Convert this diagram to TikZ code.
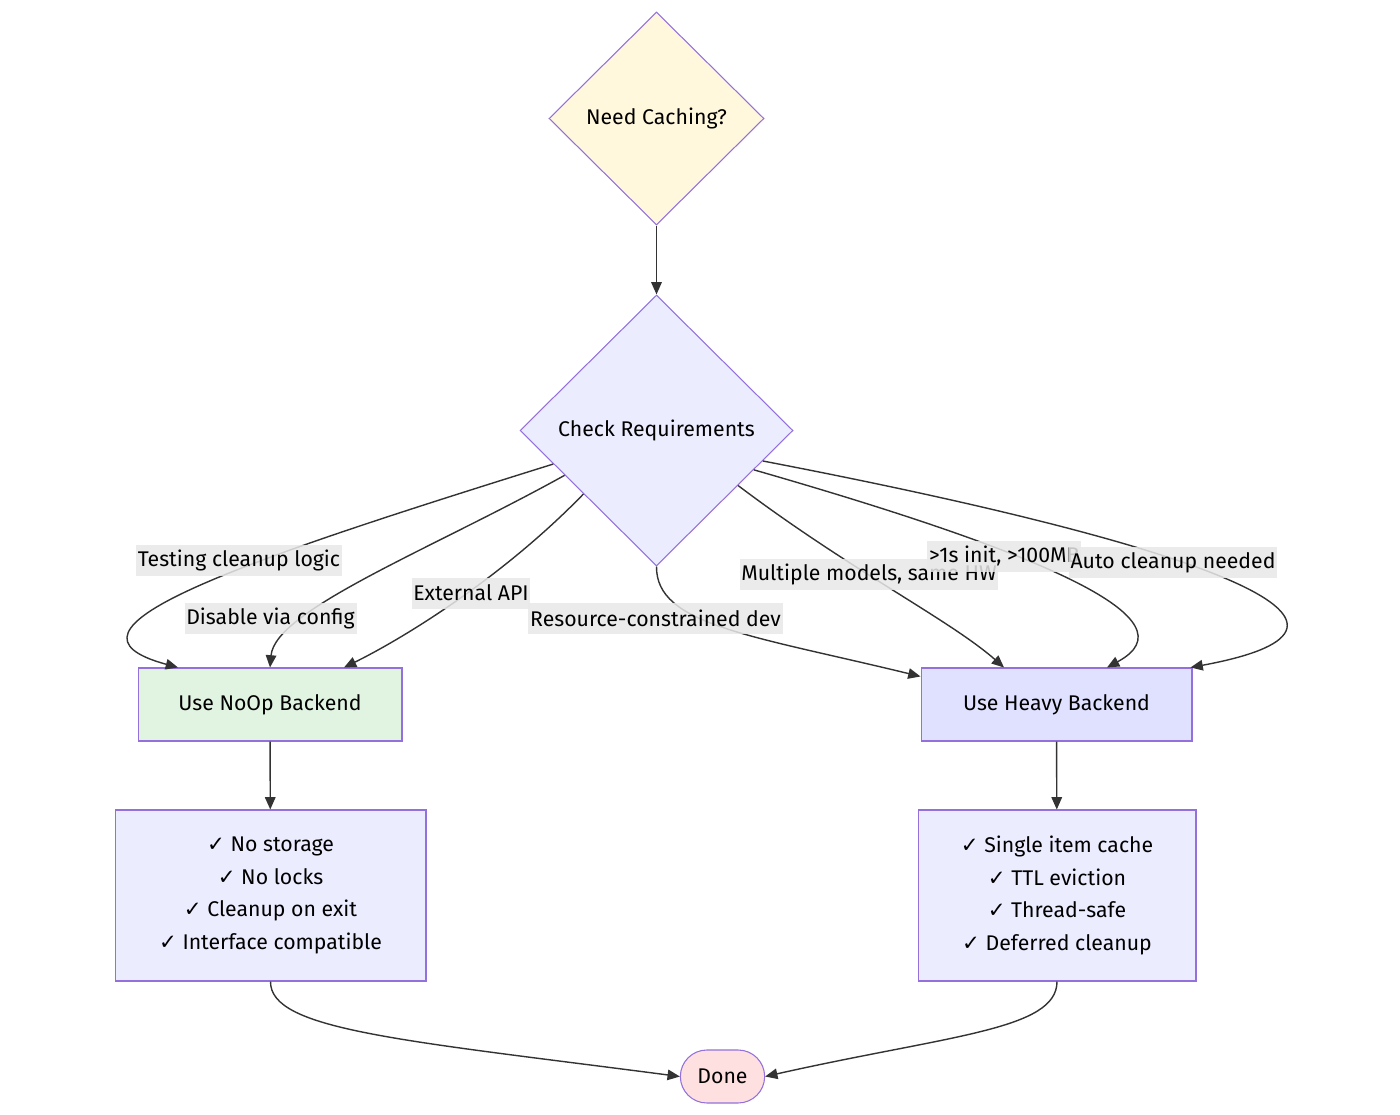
\documentclass[tikz,border=0pt]{standalone}
\usepackage{fontspec}
\setmainfont{Fira Sans}
\newfontfamily\checkfont{DejaVu Sans}
\usepackage{tikz}
\usetikzlibrary{shapes.geometric, shapes.misc, arrows.meta, calc}
\definecolor{linkcol}{HTML}{333333}
\definecolor{border}{HTML}{9370DB}
\definecolor{decide}{HTML}{FFF8DC}
\definecolor{lavender}{HTML}{ECECFF}
\definecolor{noopfill}{HTML}{E1F3E1}
\definecolor{heavyfill}{HTML}{E0E0FF}
\definecolor{donefill}{HTML}{FFE0E0}
\definecolor{tagfill}{HTML}{E8E8E8}
\newcommand{\ok}{{\checkfont\char"2713}\ }

\begin{document}
\begin{tikzpicture}[x=0.02cm, y=-0.02cm, font=\fontsize{12.1}{18.7}\selectfont,
  decision/.style={diamond, draw=border, line width=0.6pt, inner sep=0pt},
  box/.style={draw=border, line width=0.6pt, align=center},
  tag/.style={fill=tagfill, fill opacity=0.85, text opacity=1, inner xsep=1pt, inner ysep=0pt, minimum height=0.62cm},
  link/.style={draw=linkcol, line width=0.8pt, -{Triangle[length=7pt, width=6pt]}}]
  \useasboundingbox (0,0) rectangle (1400,1115);
  % Decisions
  \node[decision, fill=decide, minimum width=4.3cm, minimum height=4.26cm] (need) at (656.5,118.5) {Need Caching?};
  \node[decision, fill=lavender, minimum width=5.46cm, minimum height=5.42cm] (check) at (656.5,430.5) {Check Requirements};
  % Backends
  \node[box, fill=noopfill, minimum width=5.28cm, minimum height=1.46cm] (noop) at (270,704.5) {Use NoOp Backend};
  \node[box, fill=heavyfill, minimum width=5.42cm, minimum height=1.46cm] (heavy) at (1056.5,704.5) {Use Heavy Backend};
  % Properties
  \node[box, fill=lavender, minimum width=6.22cm, minimum height=3.42cm] (noopprops) at (270.5,895.5)
    {\ok No storage\\ \ok No locks\\ \ok Cleanup on exit\\ \ok Interface compatible};
  \node[box, fill=lavender, minimum width=5.56cm, minimum height=3.42cm] (heavyprops) at (1057,895.5)
    {\ok Single item cache\\ \ok TTL eviction\\ \ok Thread-safe\\ \ok Deferred cleanup};
  \node[rounded rectangle, draw=border, line width=0.6pt, fill=donefill, minimum width=1.92cm, minimum height=1.06cm] (done) at (722.5,1076.5) {Done};
  % Links
  \draw[link] (need) -- (check);
  \draw[link] (check.198) .. controls (230,565) and (40,630) .. ($(noop.north)+(-92,0)$);
  \draw[link] (check.206.6) .. controls (430,550) and (275,610) .. (noop.north);
  \draw[link] (check.221.7) .. controls (500,580) and (400,640) .. ($(noop.north)+(74,0)$);
  \draw[link] (check.south) .. controls (656,625) and (750,635) .. ($(heavy.north west)+(0,9)$);
  \draw[link] (check.326.1) .. controls (850,570) and (950,620) .. ($(heavy.north)+(-52.5,0)$);
  \draw[link] (check.338.1) .. controls (1050,555) and (1195,620) .. ($(heavy.north)+(50.5,0)$);
  \draw[link] (check.344.3) .. controls (1200,545) and (1420,625) .. ($(heavy.north east)+(-2,0)$);
  \draw[link] (noop) -- (noopprops);
  \draw[link] (heavy) -- (heavyprops);
  \draw[link] (noopprops.south) .. controls (270,1030) and (400,1040) .. (done.west);
  \draw[link] (heavyprops.south) .. controls (1057,1030) and (950,1035) .. (done.east);
  % Labels
  \node[tag] (lbltest) at (239,560.5) {Testing cleanup logic};
  \node[tag] (lbldisable) at (270.5,618) {Disable via config};
  \node[tag] (lblapi) at (471,593) {External API};
  \node[tag] (lblres) at (655.5,618) {Resource-constrained dev};
  \node[tag] (lblmulti) at (869,574.5) {Multiple models, same HW};
  \node[tag, anchor=west] (lblinit) at (927,556) {>1s init, >100MB};
  \node[tag] (lblauto) at (1173,562.5) {Auto cleanup needed};
\end{tikzpicture}
\end{document}
